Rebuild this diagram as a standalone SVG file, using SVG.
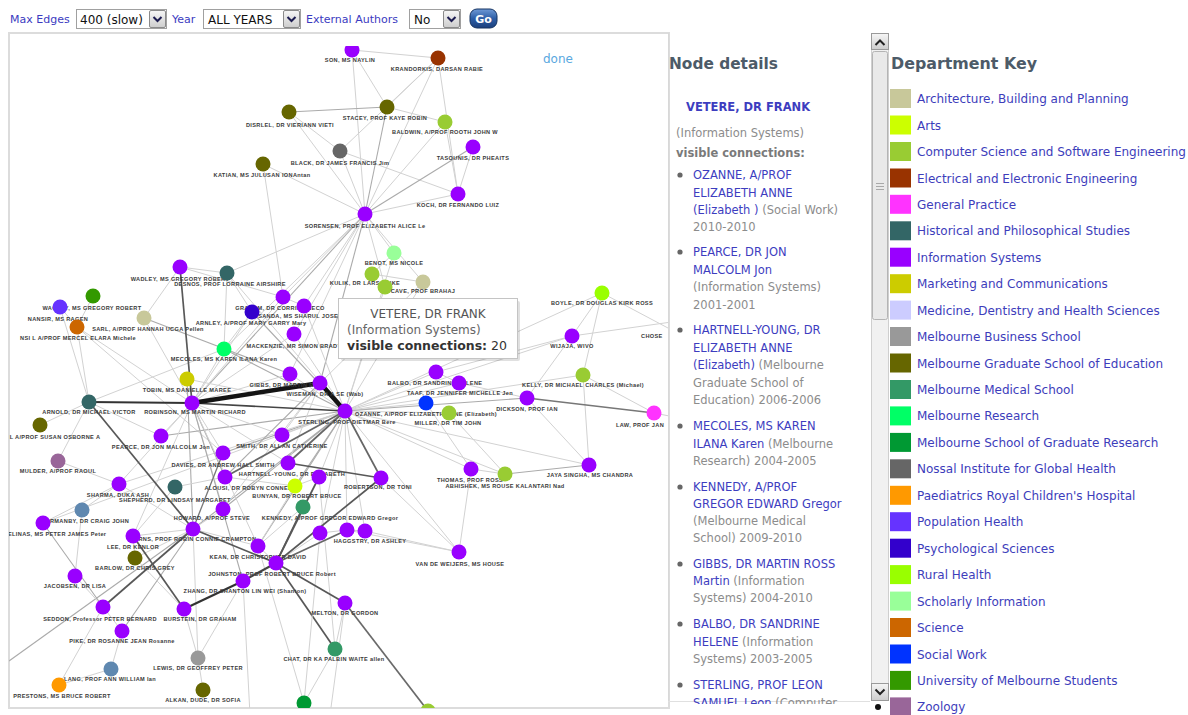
<svg xmlns="http://www.w3.org/2000/svg" width="1188" height="715" viewBox="0 0 1188 715">
<defs>
<style>
.tb{font-family:"DejaVu Sans",Verdana,sans-serif;font-size:11px;fill:#3b3bbf}
.sel{font-family:"DejaVu Sans",Verdana,sans-serif;font-size:12px;fill:#111}
.lbl{font-family:"Liberation Sans",Arial,sans-serif;font-size:5.6px;font-weight:bold;fill:#3a3a3a;letter-spacing:0.35px;text-anchor:middle}
.lbls{font-family:"Liberation Sans",Arial,sans-serif;font-size:5.6px;font-weight:bold;fill:#3a3a3a;letter-spacing:0.35px}
.key{font-family:"DejaVu Sans",Verdana,sans-serif;font-size:12px;fill:#3d3dbb}
.ttl{font-family:"DejaVu Sans",Verdana,sans-serif;font-size:16.5px;font-weight:bold;fill:#4d5b68}
.dt{font-family:"DejaVu Sans",Verdana,sans-serif;font-size:11.5px}
.bl{fill:#3d3dbf}
.gr{fill:#8c8c8c}
.bul{fill:#666}
.e1{stroke:#d2d2d2;stroke-width:1}
.e2{stroke:#ababab;stroke-width:1.1}
.e3{stroke:#585858;stroke-width:1.7}
.e4{stroke:#141414;stroke-width:4.5;stroke-linecap:round}
.node circle{stroke:none}
.is{fill:#9900ff}.gse{fill:#666600}.cs{fill:#99cc33}.ee{fill:#993300}.nos{fill:#666666}.sch{fill:#99ff99}
.arch{fill:#c8c89a}.hist{fill:#336666}.stu{fill:#339900}.pop{fill:#6633ff}.sci{fill:#cc6600}.psy{fill:#3300cc}
.mr{fill:#00ff66}.mkt{fill:#cccc00}.zoo{fill:#996699}.sw{fill:#0033ff}.rur{fill:#99ff00}.gp{fill:#ff33ff}
.arts{fill:#ccff00}.mms{fill:#339966}.stl{fill:#5f88b0}.mbs{fill:#999999}.ped{fill:#ff9900}.mgr{fill:#009933}
.med{fill:#ccccff}
</style>
<linearGradient id="btn" x1="0" y1="0" x2="0" y2="1"><stop offset="0" stop-color="#f6f6f6"/><stop offset="1" stop-color="#cdcdcd"/></linearGradient>
<linearGradient id="go" x1="0" y1="0" x2="0" y2="1"><stop offset="0" stop-color="#6f9ad6"/><stop offset="0.5" stop-color="#2d5ea6"/><stop offset="1" stop-color="#1b3f7c"/></linearGradient>
<clipPath id="gclip"><rect x="9" y="46" width="659" height="662"/></clipPath>
<clipPath id="dclip"><rect x="669" y="40" width="201" height="664"/></clipPath>
</defs>
<rect width="1188" height="715" fill="#fff"/>

<!-- toolbar -->
<g id="toolbar">
<text class="tb" x="10" y="23">Max Edges</text>
<rect x="76.5" y="9.5" width="90" height="19" fill="#fff" stroke="#a0a0a0"/>
<text class="sel" x="80" y="24">400 (slow)</text>
<rect x="149.5" y="10.5" width="16" height="17" rx="1.5" fill="url(#btn)" stroke="#8a8a8a"/>
<path d="M153.5,17 l4,4 l4,-4" fill="none" stroke="#1c1c50" stroke-width="2"/>
<text class="tb" x="172" y="23">Year</text>
<rect x="203.5" y="9.5" width="97" height="19" fill="#fff" stroke="#a0a0a0"/>
<text class="sel" x="208" y="24">ALL YEARS</text>
<rect x="283.5" y="10.5" width="16" height="17" rx="1.5" fill="url(#btn)" stroke="#8a8a8a"/>
<path d="M287.5,17 l4,4 l4,-4" fill="none" stroke="#1c1c50" stroke-width="2"/>
<text class="tb" x="306" y="23">External Authors</text>
<rect x="409.5" y="9.5" width="51" height="19" fill="#fff" stroke="#a0a0a0"/>
<text class="sel" x="414" y="24">No</text>
<rect x="443.5" y="10.5" width="16" height="17" rx="1.5" fill="url(#btn)" stroke="#8a8a8a"/>
<path d="M447.5,17 l4,4 l4,-4" fill="none" stroke="#1c1c50" stroke-width="2"/>
<rect x="470" y="9" width="27" height="19" rx="7" fill="url(#go)" stroke="#163462"/>
<text x="483.5" y="23" text-anchor="middle" font-family="DejaVu Sans, sans-serif" font-size="11" font-weight="bold" fill="#fff">Go</text>
</g>

<!-- graph frame -->
<rect x="9" y="33" width="660" height="675" fill="#fff" stroke="#dcdcdc" stroke-width="2"/>
<text x="543" y="63" font-family="DejaVu Sans, sans-serif" font-size="12" fill="#5aa8e0">done</text>

<g clip-path="url(#gclip)">
<g id="connectors">
<line class="e1" x1="352" y1="50" x2="438" y2="58"/>
<line class="e1" x1="352" y1="50" x2="365" y2="214"/>
<line class="e1" x1="352" y1="50" x2="387" y2="107"/>
<line class="e1" x1="438" y1="58" x2="387" y2="107"/>
<line class="e1" x1="438" y1="58" x2="365" y2="214"/>
<line class="e1" x1="438" y1="58" x2="458" y2="194"/>
<line class="e1" x1="438" y1="58" x2="340" y2="151"/>
<line class="e2" x1="289" y1="112" x2="387" y2="107"/>
<line class="e1" x1="289" y1="112" x2="365" y2="214"/>
<line class="e1" x1="289" y1="112" x2="340" y2="151"/>
<line class="e2" x1="387" y1="107" x2="365" y2="214"/>
<line class="e1" x1="445" y1="122" x2="365" y2="214"/>
<line class="e1" x1="445" y1="122" x2="458" y2="194"/>
<line class="e1" x1="445" y1="122" x2="387" y2="107"/>
<line class="e1" x1="340" y1="151" x2="365" y2="214"/>
<line class="e1" x1="340" y1="151" x2="458" y2="194"/>
<line class="e1" x1="263" y1="164" x2="365" y2="214"/>
<line class="e1" x1="263" y1="164" x2="283" y2="297"/>
<line class="e1" x1="458" y1="194" x2="365" y2="214"/>
<line class="e2" x1="473" y1="147" x2="365" y2="214"/>
<line class="e1" x1="473" y1="147" x2="458" y2="194"/>
<line class="e1" x1="365" y1="214" x2="394" y2="253"/>
<line class="e1" x1="365" y1="214" x2="385" y2="287"/>
<line class="e1" x1="365" y1="214" x2="423" y2="282"/>
<line class="e1" x1="365" y1="214" x2="304" y2="306"/>
<line class="e1" x1="365" y1="214" x2="283" y2="297"/>
<line class="e1" x1="365" y1="214" x2="294" y2="334"/>
<line class="e1" x1="365" y1="214" x2="290" y2="374"/>
<line class="e1" x1="365" y1="214" x2="224" y2="349"/>
<line class="e2" x1="365" y1="214" x2="192" y2="403"/>
<line class="e1" x1="365" y1="214" x2="227" y2="273"/>
<line class="e2" x1="365" y1="214" x2="320" y2="383"/>
<line class="e1" x1="394" y1="253" x2="372" y2="274"/>
<line class="e1" x1="394" y1="253" x2="345" y2="411"/>
<line class="e1" x1="372" y1="274" x2="423" y2="282"/>
<line class="e1" x1="385" y1="287" x2="345" y2="411"/>
<line class="e1" x1="423" y1="282" x2="345" y2="411"/>
<line class="e1" x1="423" y1="282" x2="320" y2="383"/>
<line class="e1" x1="180" y1="267" x2="227" y2="273"/>
<line class="e1" x1="180" y1="267" x2="144" y2="318"/>
<line class="e1" x1="180" y1="267" x2="283" y2="297"/>
<line class="e1" x1="227" y1="273" x2="252" y2="312"/>
<line class="e1" x1="227" y1="273" x2="224" y2="349"/>
<line class="e1" x1="227" y1="273" x2="345" y2="411"/>
<line class="e1" x1="93" y1="296" x2="77" y2="327"/>
<line class="e1" x1="60" y1="307" x2="89" y2="402"/>
<line class="e1" x1="60" y1="307" x2="77" y2="327"/>
<line class="e2" x1="144" y1="318" x2="290" y2="374"/>
<line class="e1" x1="144" y1="318" x2="192" y2="403"/>
<line class="e1" x1="77" y1="327" x2="89" y2="402"/>
<line class="e1" x1="77" y1="327" x2="223" y2="453"/>
<line class="e1" x1="77" y1="327" x2="192" y2="403"/>
<line class="e1" x1="283" y1="297" x2="304" y2="306"/>
<line class="e1" x1="283" y1="297" x2="192" y2="403"/>
<line class="e1" x1="304" y1="306" x2="345" y2="411"/>
<line class="e1" x1="252" y1="312" x2="224" y2="349"/>
<line class="e1" x1="252" y1="312" x2="192" y2="403"/>
<line class="e2" x1="252" y1="312" x2="345" y2="411"/>
<line class="e1" x1="294" y1="334" x2="345" y2="411"/>
<line class="e1" x1="294" y1="334" x2="192" y2="403"/>
<line class="e1" x1="224" y1="349" x2="192" y2="403"/>
<line class="e2" x1="224" y1="349" x2="345" y2="411"/>
<line class="e1" x1="224" y1="349" x2="89" y2="402"/>
<line class="e1" x1="290" y1="374" x2="345" y2="411"/>
<line class="e1" x1="290" y1="374" x2="192" y2="403"/>
<line class="e1" x1="187" y1="379" x2="345" y2="411"/>
<line class="e2" x1="187" y1="379" x2="193" y2="529"/>
<line class="e1" x1="89" y1="402" x2="40" y2="425"/>
<line class="e1" x1="89" y1="402" x2="58" y2="461"/>
<line class="e1" x1="89" y1="402" x2="161" y2="436"/>
<line class="e1" x1="345" y1="411" x2="436" y2="372"/>
<line class="e1" x1="345" y1="411" x2="459" y2="383"/>
<line class="e1" x1="345" y1="411" x2="426" y2="403"/>
<line class="e1" x1="345" y1="411" x2="449" y2="413"/>
<line class="e2" x1="345" y1="411" x2="527" y2="398"/>
<line class="e1" x1="345" y1="411" x2="583" y2="375"/>
<line class="e1" x1="345" y1="411" x2="602" y2="293"/>
<line class="e1" x1="345" y1="411" x2="572" y2="336"/>
<line class="e1" x1="345" y1="411" x2="471" y2="469"/>
<line class="e1" x1="345" y1="411" x2="505" y2="474"/>
<line class="e1" x1="345" y1="411" x2="589" y2="465"/>
<line class="e2" x1="345" y1="411" x2="161" y2="436"/>
<line class="e2" x1="345" y1="411" x2="223" y2="453"/>
<line class="e1" x1="345" y1="411" x2="282" y2="435"/>
<line class="e2" x1="345" y1="411" x2="295" y2="486"/>
<line class="e1" x1="345" y1="411" x2="319" y2="477"/>
<line class="e2" x1="345" y1="411" x2="193" y2="529"/>
<line class="e2" x1="345" y1="411" x2="223" y2="509"/>
<line class="e2" x1="345" y1="411" x2="258" y2="546"/>
<line class="e1" x1="345" y1="411" x2="320" y2="533"/>
<line class="e1" x1="345" y1="411" x2="347" y2="530"/>
<line class="e1" x1="345" y1="411" x2="365" y2="531"/>
<line class="e1" x1="345" y1="411" x2="459" y2="552"/>
<line class="e1" x1="345" y1="411" x2="119" y2="484"/>
<line class="e1" x1="345" y1="411" x2="43" y2="523"/>
<line class="e1" x1="436" y1="372" x2="459" y2="383"/>
<line class="e1" x1="436" y1="372" x2="572" y2="336"/>
<line class="e1" x1="459" y1="383" x2="527" y2="398"/>
<line class="e1" x1="426" y1="403" x2="471" y2="469"/>
<line class="e1" x1="449" y1="413" x2="505" y2="474"/>
<line class="e1" x1="527" y1="398" x2="589" y2="465"/>
<line class="e1" x1="527" y1="398" x2="572" y2="336"/>
<line class="e1" x1="583" y1="375" x2="602" y2="293"/>
<line class="e1" x1="583" y1="375" x2="654" y2="413"/>
<line class="e1" x1="583" y1="375" x2="589" y2="465"/>
<line class="e1" x1="602" y1="293" x2="572" y2="336"/>
<line class="e1" x1="572" y1="336" x2="700" y2="318"/>
<line class="e1" x1="602" y1="293" x2="700" y2="345"/>
<line class="e1" x1="654" y1="413" x2="700" y2="422"/>
<line class="e1" x1="471" y1="469" x2="505" y2="474"/>
<line class="e2" x1="505" y1="474" x2="589" y2="465"/>
<line class="e1" x1="471" y1="469" x2="459" y2="552"/>
<line class="e1" x1="192" y1="403" x2="161" y2="436"/>
<line class="e1" x1="192" y1="403" x2="223" y2="453"/>
<line class="e1" x1="192" y1="403" x2="282" y2="435"/>
<line class="e1" x1="192" y1="403" x2="288" y2="463"/>
<line class="e2" x1="192" y1="403" x2="225" y2="477"/>
<line class="e1" x1="192" y1="403" x2="223" y2="509"/>
<line class="e1" x1="192" y1="403" x2="119" y2="484"/>
<line class="e1" x1="192" y1="403" x2="133" y2="536"/>
<line class="e1" x1="192" y1="403" x2="258" y2="546"/>
<line class="e2" x1="192" y1="403" x2="243" y2="581"/>
<line class="e1" x1="320" y1="383" x2="282" y2="435"/>
<line class="e1" x1="320" y1="383" x2="288" y2="463"/>
<line class="e2" x1="320" y1="383" x2="225" y2="477"/>
<line class="e1" x1="320" y1="383" x2="223" y2="509"/>
<line class="e1" x1="58" y1="461" x2="119" y2="484"/>
<line class="e1" x1="119" y1="484" x2="82" y2="510"/>
<line class="e1" x1="119" y1="484" x2="43" y2="523"/>
<line class="e1" x1="119" y1="484" x2="193" y2="529"/>
<line class="e1" x1="175" y1="487" x2="225" y2="477"/>
<line class="e1" x1="175" y1="487" x2="133" y2="536"/>
<line class="e1" x1="225" y1="477" x2="295" y2="486"/>
<line class="e1" x1="295" y1="486" x2="319" y2="477"/>
<line class="e1" x1="295" y1="486" x2="258" y2="546"/>
<line class="e1" x1="319" y1="477" x2="303" y2="507"/>
<line class="e1" x1="303" y1="507" x2="258" y2="546"/>
<line class="e1" x1="82" y1="510" x2="75" y2="576"/>
<line class="e2" x1="43" y1="523" x2="103" y2="607"/>
<line class="e1" x1="193" y1="529" x2="223" y2="509"/>
<line class="e1" x1="193" y1="529" x2="133" y2="536"/>
<line class="e1" x1="193" y1="529" x2="258" y2="546"/>
<line class="e1" x1="193" y1="529" x2="135" y2="558"/>
<line class="e2" x1="193" y1="529" x2="122" y2="631"/>
<line class="e1" x1="193" y1="529" x2="198" y2="658"/>
<line class="e2" x1="193" y1="529" x2="9" y2="661"/>
<line class="e1" x1="133" y1="536" x2="135" y2="558"/>
<line class="e1" x1="258" y1="546" x2="304" y2="703"/>
<line class="e1" x1="320" y1="533" x2="347" y2="530"/>
<line class="e1" x1="347" y1="530" x2="365" y2="531"/>
<line class="e1" x1="365" y1="531" x2="459" y2="552"/>
<line class="e1" x1="347" y1="530" x2="459" y2="552"/>
<line class="e1" x1="320" y1="533" x2="276" y2="563"/>
<line class="e1" x1="258" y1="546" x2="276" y2="563"/>
<line class="e3" x1="276" y1="563" x2="335" y2="649"/>
<line class="e1" x1="243" y1="581" x2="198" y2="658"/>
<line class="e1" x1="184" y1="609" x2="198" y2="658"/>
<line class="e1" x1="122" y1="631" x2="111" y2="669"/>
<line class="e1" x1="103" y1="607" x2="59" y2="685"/>
<line class="e1" x1="75" y1="576" x2="103" y2="607"/>
<line class="e1" x1="198" y1="658" x2="203" y2="690"/>
<line class="e1" x1="335" y1="649" x2="304" y2="703"/>
<line class="e1" x1="345" y1="603" x2="335" y2="649"/>
<line class="e1" x1="111" y1="669" x2="59" y2="685"/>
<line class="e1" x1="103" y1="607" x2="122" y2="631"/>
<line class="e1" x1="135" y1="558" x2="184" y2="609"/>
<line class="e1" x1="345" y1="603" x2="330" y2="715"/>
<line class="e1" x1="243" y1="581" x2="250" y2="715"/>
<line class="e1" x1="381" y1="478" x2="459" y2="552"/>
<line class="e1" x1="319" y1="477" x2="335" y2="649"/>
<line class="e1" x1="320" y1="533" x2="304" y2="703"/>
<line class="e3" x1="180" y1="267" x2="192" y2="403"/>
<line class="e3" x1="89" y1="402" x2="192" y2="403" style="stroke:#333;stroke-width:2"/>
<line class="e3" x1="192" y1="403" x2="345" y2="411" style="stroke:#444"/>
<line class="e3" x1="89" y1="402" x2="193" y2="529"/>
<line class="e3" x1="193" y1="529" x2="276" y2="563"/>
<line class="e3" x1="276" y1="563" x2="345" y2="603"/>
<line class="e3" x1="276" y1="563" x2="303" y2="507"/>
<line class="e3" x1="276" y1="563" x2="319" y2="477"/>
<line class="e3" x1="243" y1="581" x2="184" y2="609" style="stroke:#333;stroke-width:2.2"/>
<line class="e3" x1="276" y1="563" x2="243" y2="581" style="stroke:#444;stroke-width:2"/>
<line class="e3" x1="133" y1="536" x2="184" y2="609"/>
<line class="e3" x1="103" y1="607" x2="193" y2="529"/>
<line class="e3" x1="381" y1="478" x2="276" y2="563"/>
<line class="e3" x1="345" y1="603" x2="428" y2="711" style="stroke:#6a6a6a"/>
<line class="e3" x1="345" y1="411" x2="225" y2="477" style="stroke:#666"/>
<line class="e3" x1="345" y1="411" x2="288" y2="463" style="stroke:#666"/>
<line class="e3" x1="288" y1="463" x2="381" y2="478"/>
<line class="e3" x1="527" y1="398" x2="654" y2="413" style="stroke:#777;stroke-width:1.3"/>
<line class="e3" x1="345" y1="411" x2="381" y2="478" style="stroke:#666"/>
<line class="e3" x1="223" y1="453" x2="193" y2="529" style="stroke:#777;stroke-width:1.3"/>
<line class="e3" x1="276" y1="563" x2="347" y2="530" style="stroke:#666"/>
<line class="e4" x1="192" y1="403" x2="320" y2="383"/>
<line class="e4" x1="320" y1="383" x2="345" y2="411"/>
</g>

<g id="n1" class="node"><circle class="is" cx="352" cy="50" r="7.5"/><text class="lbl" x="350" y="62">SON, MS NAYLIN</text></g>
<g id="n2" class="node"><circle class="ee" cx="438" cy="58" r="7.5"/><text class="lbl" x="437" y="71">KRANDORKIS, DARSAN RABIE</text></g>
<g id="n3" class="node"><circle class="gse" cx="289" cy="112" r="7.5"/><text class="lbl" x="290" y="127">DISRLEL, DR VIERIANN VIETI</text></g>
<g id="n4" class="node"><circle class="gse" cx="387" cy="107" r="7.5"/><text class="lbl" x="385" y="120">STACEY, PROF KAYE ROBIN</text></g>
<g id="n5" class="node"><circle class="cs" cx="445" cy="122" r="7.5"/><text class="lbl" x="445" y="134">BALDWIN, A/PROF ROOTH JOHN W</text></g>
<g id="n6" class="node"><circle class="nos" cx="340" cy="151" r="7.5"/><text class="lbl" x="340" y="165">BLACK, DR JAMES FRANCIS Jim</text></g>
<g id="n7" class="node"><circle class="is" cx="473" cy="147" r="7.5"/><text class="lbl" x="473" y="160">TASOUNIS, DR PHEAITS</text></g>
<g id="n8" class="node"><circle class="gse" cx="263" cy="164" r="7.5"/><text class="lbl" x="262" y="177">KATIAN, MS JULUSAN IONAntan</text></g>
<g id="n9" class="node"><circle class="is" cx="458" cy="194" r="7.5"/><text class="lbl" x="458" y="207">KOCH, DR FERNANDO LUIZ</text></g>
<g id="n10" class="node"><circle class="is" cx="365" cy="214" r="7.5"/><text class="lbl" x="365" y="228">SORENSEN, PROF ELIZABETH ALICE Le</text></g>
<g id="n11" class="node"><circle class="sch" cx="394" cy="253" r="7.5"/><text class="lbl" x="394" y="265">BENOT, MS NICOLE</text></g>
<g id="n12" class="node"><circle class="cs" cx="372" cy="274" r="7.5"/><text class="lbl" x="365" y="285">KULIK, DR LARS LAIKE</text></g>
<g id="n13" class="node"><circle class="cs" cx="385" cy="287" r="7.5"/></g>
<g id="n14" class="node"><circle class="arch" cx="423" cy="282" r="7.5"/><text class="lbl" x="423" y="293">CAVE, PROF BRAHAJ</text></g>
<g id="n15" class="node"><circle class="is" cx="180" cy="267" r="7.5"/><text class="lbl" x="180" y="281">WADLEY, MS GREGORY ROBERT</text></g>
<g id="n16" class="node"><circle class="hist" cx="227" cy="273" r="7.5"/><text class="lbl" x="230" y="286">DESNOS, PROF LORRAINE AIRSHIRE</text></g>
<g id="n17" class="node"><circle class="stu" cx="93" cy="296" r="7.5"/><text class="lbl" x="92" y="310">WAGLEY, MS GREGORY ROBERT</text></g>
<g id="n18" class="node"><circle class="pop" cx="60" cy="307" r="7.5"/><text class="lbl" x="58" y="321">NANSIR, MS RAGEN</text></g>
<g id="n19" class="node"><circle class="arch" cx="144" cy="318" r="7.5"/><text class="lbl" x="148" y="331">SARL, A/PROF HANNAH UCGA Pellen</text></g>
<g id="n20" class="node"><circle class="sci" cx="77" cy="327" r="7.5"/><text class="lbl" x="78" y="340">NSI L A/PROF MERCEL ELARA Michele</text></g>
<g id="n21" class="node"><circle class="is" cx="283" cy="297" r="7.5"/><text class="lbl" x="280" y="310">GRAHAM, DR CORRINE NECO</text></g>
<g id="n22" class="node"><circle class="is" cx="304" cy="306" r="7.5"/><text class="lbl" x="300" y="318">SANDA, MS SHARUL JOSEF</text></g>
<g id="n23" class="node"><circle class="psy" cx="252" cy="312" r="7.5"/><text class="lbl" x="251" y="325">ARNLEY, A/PROF MARY GARRY Mary</text></g>
<g id="n24" class="node"><circle class="is" cx="294" cy="334" r="7.5"/><text class="lbl" x="294" y="348">MACKENZIE, MR SIMON BRADY</text></g>
<g id="n25" class="node"><circle class="mr" cx="224" cy="349" r="7.5"/><text class="lbl" x="224" y="361">MECOLES, MS KAREN ILANA Karen</text></g>
<g id="n26" class="node"><circle class="is" cx="290" cy="374" r="7.5"/><text class="lbl" x="288" y="387">GIBBS, DR MARTIN ROSS</text></g>
<g id="n27" class="node"><circle class="mkt" cx="187" cy="379" r="7.5"/><text class="lbl" x="187" y="392">TOBIN, MS DANIELLE MAREE</text></g>
<g id="n28" class="node"><circle class="is" cx="320" cy="383" r="7.5"/><text class="lbl" x="325" y="396">WISEMAN, DR A SE (Wab)</text></g>
<g id="n29" class="node"><circle class="is" cx="192" cy="403" r="7.5"/><text class="lbl" x="195" y="414">ROBINSON, MS MARTIN RICHARD</text></g>
<g id="n30" class="node"><circle class="hist" cx="89" cy="402" r="7.5"/><text class="lbl" x="89" y="414">ARNOLD, DR MICHAEL VICTOR</text></g>
<g id="n31" class="node"><circle class="is" cx="345" cy="411" r="7.5"/><text class="lbl" x="347" y="424">STERLING, PROF DIETMAR Bere</text></g>
<g id="n32" class="node"><circle class="gse" cx="40" cy="425" r="7.5"/><text class="lbl" x="55" y="439">L A/PROF SUSAN OSBORNE A</text></g>
<g id="n33" class="node"><circle class="is" cx="161" cy="436" r="7.5"/><text class="lbl" x="161" y="449">PEARCE, DR JON MALCOLM Jon</text></g>
<g id="n34" class="node"><circle class="is" cx="223" cy="453" r="7.5"/><text class="lbl" x="223" y="467">DAVIES, DR ANDREW HALL SMITH</text></g>
<g id="n35" class="node"><circle class="is" cx="282" cy="435" r="7.5"/><text class="lbl" x="282" y="448">SMITH, DR ALLAN CATHERINE</text></g>
<g id="n36" class="node"><circle class="is" cx="288" cy="463" r="7.5"/><text class="lbl" x="292" y="476">HARTNELL-YOUNG, DR ELIZABETH</text></g>
<g id="n37" class="node"><circle class="zoo" cx="58" cy="461" r="7.5"/><text class="lbl" x="58" y="473">MULDER, A/PROF RAOUL</text></g>
<g id="n38" class="node"><circle class="is" cx="436" cy="372" r="7.5"/><text class="lbl" x="435" y="385">BALBO, DR SANDRINE HELENE</text></g>
<g id="n39" class="node"><circle class="is" cx="459" cy="383" r="7.5"/><text class="lbl" x="460" y="395">TAAF, DR JENNIFER MICHELLE Jen</text></g>
<g id="n40" class="node"><circle class="sw" cx="426" cy="403" r="7.5"/><text class="lbl" x="426" y="416">OZANNE, A/PROF ELIZABETH ANNE (Elizabeth)</text></g>
<g id="n41" class="node"><circle class="cs" cx="449" cy="413" r="7.5"/><text class="lbl" x="448" y="425">MILLER, DR TIM JOHN</text></g>
<g id="n42" class="node"><circle class="is" cx="527" cy="398" r="7.5"/><text class="lbl" x="527" y="411">DICKSON, PROF IAN</text></g>
<g id="n43" class="node"><circle class="cs" cx="583" cy="375" r="7.5"/><text class="lbl" x="583" y="387">KELLY, DR MICHAEL CHARLES (Michael)</text></g>
<g id="n44" class="node"><circle class="rur" cx="602" cy="293" r="7.5"/><text class="lbl" x="602" y="305">BOYLE, DR DOUGLAS KIRK ROSS</text></g>
<g id="n45" class="node"><circle class="is" cx="572" cy="336" r="7.5"/><text class="lbl" x="572" y="348">WIJAJA, WIVO</text></g>
<g id="n46" class="node"><circle class="gp" cx="654" cy="413" r="7.5"/><text class="lbl" x="640" y="427">LAW, PROF JAN</text></g>
<g id="n47" class="node"><circle class="is" cx="471" cy="469" r="7.5"/><text class="lbl" x="470" y="482">THOMAS, PROF ROSS</text></g>
<g id="n48" class="node"><circle class="cs" cx="505" cy="474" r="7.5"/><text class="lbl" x="505" y="488">ABHISHEK, MS ROUSE KALANTARI Nad</text></g>
<g id="n49" class="node"><circle class="is" cx="589" cy="465" r="7.5"/><text class="lbl" x="590" y="477">JAYA SINGHA, MS CHANDRA</text></g>
<g id="n50" class="node"><circle class="is" cx="381" cy="478" r="7.5"/><text class="lbl" x="378" y="489">ROBERTSON, DR TONI</text></g>
<g id="n51" class="node"><circle class="is" cx="119" cy="484" r="7.5"/><text class="lbl" x="118" y="497">SHARMA, DUKA ASH</text></g>
<g id="n52" class="node"><circle class="hist" cx="175" cy="487" r="7.5"/><text class="lbl" x="175" y="502">SHEPHERD, DR LINDSAY MARGARET</text></g>
<g id="n53" class="node"><circle class="is" cx="225" cy="477" r="7.5"/><text class="lbl" x="250" y="490">ALOUSI, DR ROBYN CONNELL</text></g>
<g id="n54" class="node"><circle class="arts" cx="295" cy="486" r="7.5"/><text class="lbl" x="297" y="498">BUNYAN, DR ROBERT BRUCE</text></g>
<g id="n55" class="node"><circle class="is" cx="319" cy="477" r="7.5"/></g>
<g id="n56" class="node"><circle class="mms" cx="303" cy="507" r="7.5"/><text class="lbl" x="330" y="520">KENNEDY, A/PROF GREGOR EDWARD Gregor</text></g>
<g id="n57" class="node"><circle class="stl" cx="82" cy="510" r="7.5"/><text class="lbl" x="85" y="523">NORMANBY, DR CRAIG JOHN</text></g>
<g id="n58" class="node"><circle class="is" cx="43" cy="523" r="7.5"/><text class="lbl" x="55" y="536">DELINAS, MS PETER JAMES Peter</text></g>
<g id="n59" class="node"><circle class="is" cx="193" cy="529" r="7.5"/><text class="lbl" x="193" y="541">BURNS, PROF ROBIN CONNIE CRAMPTON</text></g>
<g id="n60" class="node"><circle class="is" cx="223" cy="509" r="7.5"/><text class="lbl" x="212" y="520">HOWARD, A/PROF STEVE</text></g>
<g id="n61" class="node"><circle class="is" cx="133" cy="536" r="7.5"/><text class="lbl" x="133" y="549">LEE, DR KENLOR</text></g>
<g id="n62" class="node"><circle class="is" cx="258" cy="546" r="7.5"/><text class="lbl" x="258" y="559">KEAN, DR CHRISTOPHER DAVID</text></g>
<g id="n63" class="node"><circle class="is" cx="320" cy="533" r="7.5"/></g>
<g id="n64" class="node"><circle class="is" cx="347" cy="530" r="7.5"/></g>
<g id="n65" class="node"><circle class="is" cx="365" cy="531" r="7.5"/><text class="lbl" x="370" y="543">HAGGSTRY, DR ASHLEY</text></g>
<g id="n66" class="node"><circle class="gse" cx="135" cy="558" r="7.5"/><text class="lbl" x="135" y="570">BARLOW, DR CHRIS GREY</text></g>
<g id="n67" class="node"><circle class="is" cx="276" cy="563" r="7.5"/><text class="lbl" x="272" y="576">JOHNSTON, PROF ROBERT BRUCE Robert</text></g>
<g id="n68" class="node"><circle class="is" cx="243" cy="581" r="7.5"/><text class="lbl" x="245" y="593">ZHANG, DR SHANTON LIN WEI (Shanton)</text></g>
<g id="n69" class="node"><circle class="is" cx="75" cy="576" r="7.5"/><text class="lbl" x="75" y="588">JACOBSEN, DR LISA</text></g>
<g id="n70" class="node"><circle class="is" cx="103" cy="607" r="7.5"/><text class="lbl" x="100" y="621">SEDDON, Professor PETER BERNARD</text></g>
<g id="n71" class="node"><circle class="is" cx="184" cy="609" r="7.5"/><text class="lbl" x="200" y="621">BURSTEIN, DR GRAHAM</text></g>
<g id="n72" class="node"><circle class="is" cx="122" cy="631" r="7.5"/><text class="lbl" x="122" y="643">PIKE, DR ROSANNE JEAN Rosanne</text></g>
<g id="n73" class="node"><circle class="is" cx="459" cy="552" r="7.5"/><text class="lbl" x="460" y="566">VAN DE WEIJERS, MS HOUSE</text></g>
<g id="n74" class="node"><circle class="is" cx="345" cy="603" r="7.5"/><text class="lbl" x="345" y="615">MELTON, DR GORDON</text></g>
<g id="n75" class="node"><circle class="mbs" cx="198" cy="658" r="7.5"/><text class="lbl" x="198" y="670">LEWIS, DR GEOFFREY PETER</text></g>
<g id="n76" class="node"><circle class="mms" cx="335" cy="649" r="7.5"/><text class="lbl" x="334" y="661">CHAT, DR KA PALBIN WAITE allen</text></g>
<g id="n77" class="node"><circle class="stl" cx="111" cy="669" r="7.5"/><text class="lbl" x="110" y="681">LANG, PROF ANN WILLIAM Ian</text></g>
<g id="n78" class="node"><circle class="ped" cx="59" cy="685" r="7.5"/><text class="lbl" x="62" y="698">PRESTONS, MS BRUCE ROBERT</text></g>
<g id="n79" class="node"><circle class="gse" cx="203" cy="690" r="7.5"/><text class="lbl" x="203" y="702">ALKAN, DUDE, DR SOFIA</text></g>
<g id="n80" class="node"><circle class="mgr" cx="304" cy="703" r="7.5"/></g>
<g id="n81" class="node"><circle class="cs" cx="428" cy="711" r="7.5"/></g>
<g id="n82" class="node"><text class="lbls" x="641" y="338">CHOSE</text></g>

<g id="tooltip">
<rect x="341" y="301" width="179" height="60" rx="2" fill="#000" opacity="0.12"/>
<rect x="338.5" y="298.5" width="179" height="60" fill="#fff" stroke="#c4c4c4"/>
<text x="428" y="318" text-anchor="middle" font-family="DejaVu Sans, sans-serif" font-size="12" fill="#555">VETERE, DR FRANK</text>
<text x="347" y="334" font-family="DejaVu Sans, sans-serif" font-size="12" fill="#666">(Information Systems)</text>
<text x="347" y="350" font-family="DejaVu Sans, sans-serif" font-size="12.5" fill="#333"><tspan font-weight="bold">visible connections:</tspan> 20</text>
</g>
</g>

<!-- node details -->
<g id="details">
<line x1="668.5" y1="33" x2="668.5" y2="701" stroke="#d8d8d8"/>
<line x1="668" y1="701.5" x2="870" y2="701.5" stroke="#e0e0e0"/>
<text class="ttl" x="669" y="69" textLength="109" lengthAdjust="spacingAndGlyphs">Node details</text>
<g clip-path="url(#dclip)">
<text class="dt bl" x="686" y="111" font-weight="bold" font-size="11.5">VETERE, DR FRANK</text>
<text class="dt gr" x="676" y="137">(Information Systems)</text>
<text class="dt" x="676" y="157" fill="#7a7a7a" font-weight="bold" font-size="11">visible connections:</text>
<circle class="bul" cx="680" cy="175" r="2.6"/>
<text class="dt bl" x="693" y="179">OZANNE, A/PROF</text>
<text class="dt bl" x="693" y="197">ELIZABETH ANNE</text>
<text class="dt" x="693" y="214"><tspan class="bl">(Elizabeth )</tspan><tspan class="gr"> (Social Work)</tspan></text>
<text class="dt gr" x="693" y="231">2010-2010</text>
<circle class="bul" cx="680" cy="252" r="2.6"/>
<text class="dt bl" x="693" y="256">PEARCE, DR JON</text>
<text class="dt bl" x="693" y="274">MALCOLM Jon</text>
<text class="dt gr" x="693" y="291">(Information Systems)</text>
<text class="dt gr" x="693" y="309">2001-2001</text>
<circle class="bul" cx="680" cy="330" r="2.6"/>
<text class="dt bl" x="693" y="334">HARTNELL-YOUNG, DR</text>
<text class="dt bl" x="693" y="352">ELIZABETH ANNE</text>
<text class="dt" x="693" y="369"><tspan class="bl">(Elizabeth)</tspan><tspan class="gr"> (Melbourne</tspan></text>
<text class="dt gr" x="693" y="387">Graduate School of</text>
<text class="dt gr" x="693" y="404">Education) 2006-2006</text>
<circle class="bul" cx="680" cy="426" r="2.6"/>
<text class="dt bl" x="693" y="430">MECOLES, MS KAREN</text>
<text class="dt" x="693" y="448"><tspan class="bl">ILANA Karen</tspan><tspan class="gr"> (Melbourne</tspan></text>
<text class="dt gr" x="693" y="465">Research) 2004-2005</text>
<circle class="bul" cx="680" cy="487" r="2.6"/>
<text class="dt bl" x="693" y="491">KENNEDY, A/PROF</text>
<text class="dt bl" x="693" y="508">GREGOR EDWARD Gregor</text>
<text class="dt gr" x="693" y="525">(Melbourne Medical</text>
<text class="dt gr" x="693" y="542">School) 2009-2010</text>
<circle class="bul" cx="680" cy="564" r="2.6"/>
<text class="dt bl" x="693" y="568">GIBBS, DR MARTIN ROSS</text>
<text class="dt" x="693" y="585"><tspan class="bl">Martin</tspan><tspan class="gr"> (Information</tspan></text>
<text class="dt gr" x="693" y="602">Systems) 2004-2010</text>
<circle class="bul" cx="680" cy="624" r="2.6"/>
<text class="dt bl" x="693" y="628">BALBO, DR SANDRINE</text>
<text class="dt" x="693" y="646"><tspan class="bl">HELENE</tspan><tspan class="gr"> (Information</tspan></text>
<text class="dt gr" x="693" y="663">Systems) 2003-2005</text>
<circle class="bul" cx="680" cy="685" r="2.6"/>
<text class="dt bl" x="693" y="689">STERLING, PROF LEON</text>
<text class="dt" x="693" y="707"><tspan class="bl">SAMUEL Leon</tspan><tspan class="gr"> (Computer</tspan></text>
</g>
</g>

<!-- scrollbar -->
<g id="scrollbar">
<rect x="871.5" y="33.5" width="17" height="667" fill="#f1f1f1" stroke="#cfcfcf"/>
<rect x="871.5" y="33.5" width="17" height="16" fill="url(#btn)" stroke="#9a9a9a"/>
<path d="M875.5,45 l4.5,-4.5 l4.5,4.5" fill="none" stroke="#222" stroke-width="2"/>
<rect x="872.5" y="51.5" width="15" height="268" rx="2" fill="#e9e9e9" stroke="#b4b4b4"/>
<path d="M876,183.5 h8 M876,186.5 h8 M876,189.5 h8" stroke="#a8a8a8"/>
<rect x="871.5" y="683.5" width="17" height="17" fill="url(#btn)" stroke="#9a9a9a"/>
<path d="M875.5,689.5 l4.5,4.5 l4.5,-4.5" fill="none" stroke="#222" stroke-width="2"/>
<circle cx="878" cy="707" r="3" fill="#111"/>
</g>

<!-- department key -->
<g id="key">
<text class="ttl" x="891" y="69" textLength="146" lengthAdjust="spacingAndGlyphs">Department Key</text>
<rect class="arch" x="890" y="89" width="21" height="19"/><text class="key" x="917" y="103">Architecture, Building and Planning</text>
<rect class="arts" x="890" y="115.5" width="21" height="19"/><text class="key" x="917" y="129.5">Arts</text>
<rect class="cs" x="890" y="142" width="21" height="19"/><text class="key" x="917" y="156">Computer Science and Software Engineering</text>
<rect class="ee" x="890" y="168.5" width="21" height="19"/><text class="key" x="917" y="182.5">Electrical and Electronic Engineering</text>
<rect class="gp" x="890" y="194.8" width="21" height="19"/><text class="key" x="917" y="208.8">General Practice</text>
<rect class="hist" x="890" y="221.3" width="21" height="19"/><text class="key" x="917" y="235.3">Historical and Philosophical Studies</text>
<rect class="is" x="890" y="247.7" width="21" height="19"/><text class="key" x="917" y="261.7">Information Systems</text>
<rect class="mkt" x="890" y="274.2" width="21" height="19"/><text class="key" x="917" y="288.2">Marketing and Communications</text>
<rect class="med" x="890" y="300.6" width="21" height="19"/><text class="key" x="917" y="314.6">Medicine, Dentistry and Health Sciences</text>
<rect class="mbs" x="890" y="327" width="21" height="19"/><text class="key" x="917" y="341">Melbourne Business School</text>
<rect class="gse" x="890" y="353.5" width="21" height="19"/><text class="key" x="917" y="367.5">Melbourne Graduate School of Education</text>
<rect class="mms" x="890" y="380" width="21" height="19"/><text class="key" x="917" y="394">Melbourne Medical School</text>
<rect class="mr" x="890" y="406.4" width="21" height="19"/><text class="key" x="917" y="420.4">Melbourne Research</text>
<rect class="mgr" x="890" y="432.9" width="21" height="19"/><text class="key" x="917" y="446.9">Melbourne School of Graduate Research</text>
<rect class="nos" x="890" y="459.3" width="21" height="19"/><text class="key" x="917" y="473.3">Nossal Institute for Global Health</text>
<rect class="ped" x="890" y="485.8" width="21" height="19"/><text class="key" x="917" y="499.8">Paediatrics Royal Children's Hospital</text>
<rect class="pop" x="890" y="512.2" width="21" height="19"/><text class="key" x="917" y="526.2">Population Health</text>
<rect class="psy" x="890" y="538.7" width="21" height="19"/><text class="key" x="917" y="552.7">Psychological Sciences</text>
<rect class="rur" x="890" y="565.1" width="21" height="19"/><text class="key" x="917" y="579.1">Rural Health</text>
<rect class="sch" x="890" y="591.6" width="21" height="19"/><text class="key" x="917" y="605.6">Scholarly Information</text>
<rect class="sci" x="890" y="618" width="21" height="19"/><text class="key" x="917" y="632">Science</text>
<rect class="sw" x="890" y="644.5" width="21" height="19"/><text class="key" x="917" y="658.5">Social Work</text>
<rect class="stu" x="890" y="670.9" width="21" height="19"/><text class="key" x="917" y="684.9">University of Melbourne Students</text>
<rect class="zoo" x="890" y="697.4" width="21" height="19"/><text class="key" x="917" y="711.4">Zoology</text>
</g>
</svg>
